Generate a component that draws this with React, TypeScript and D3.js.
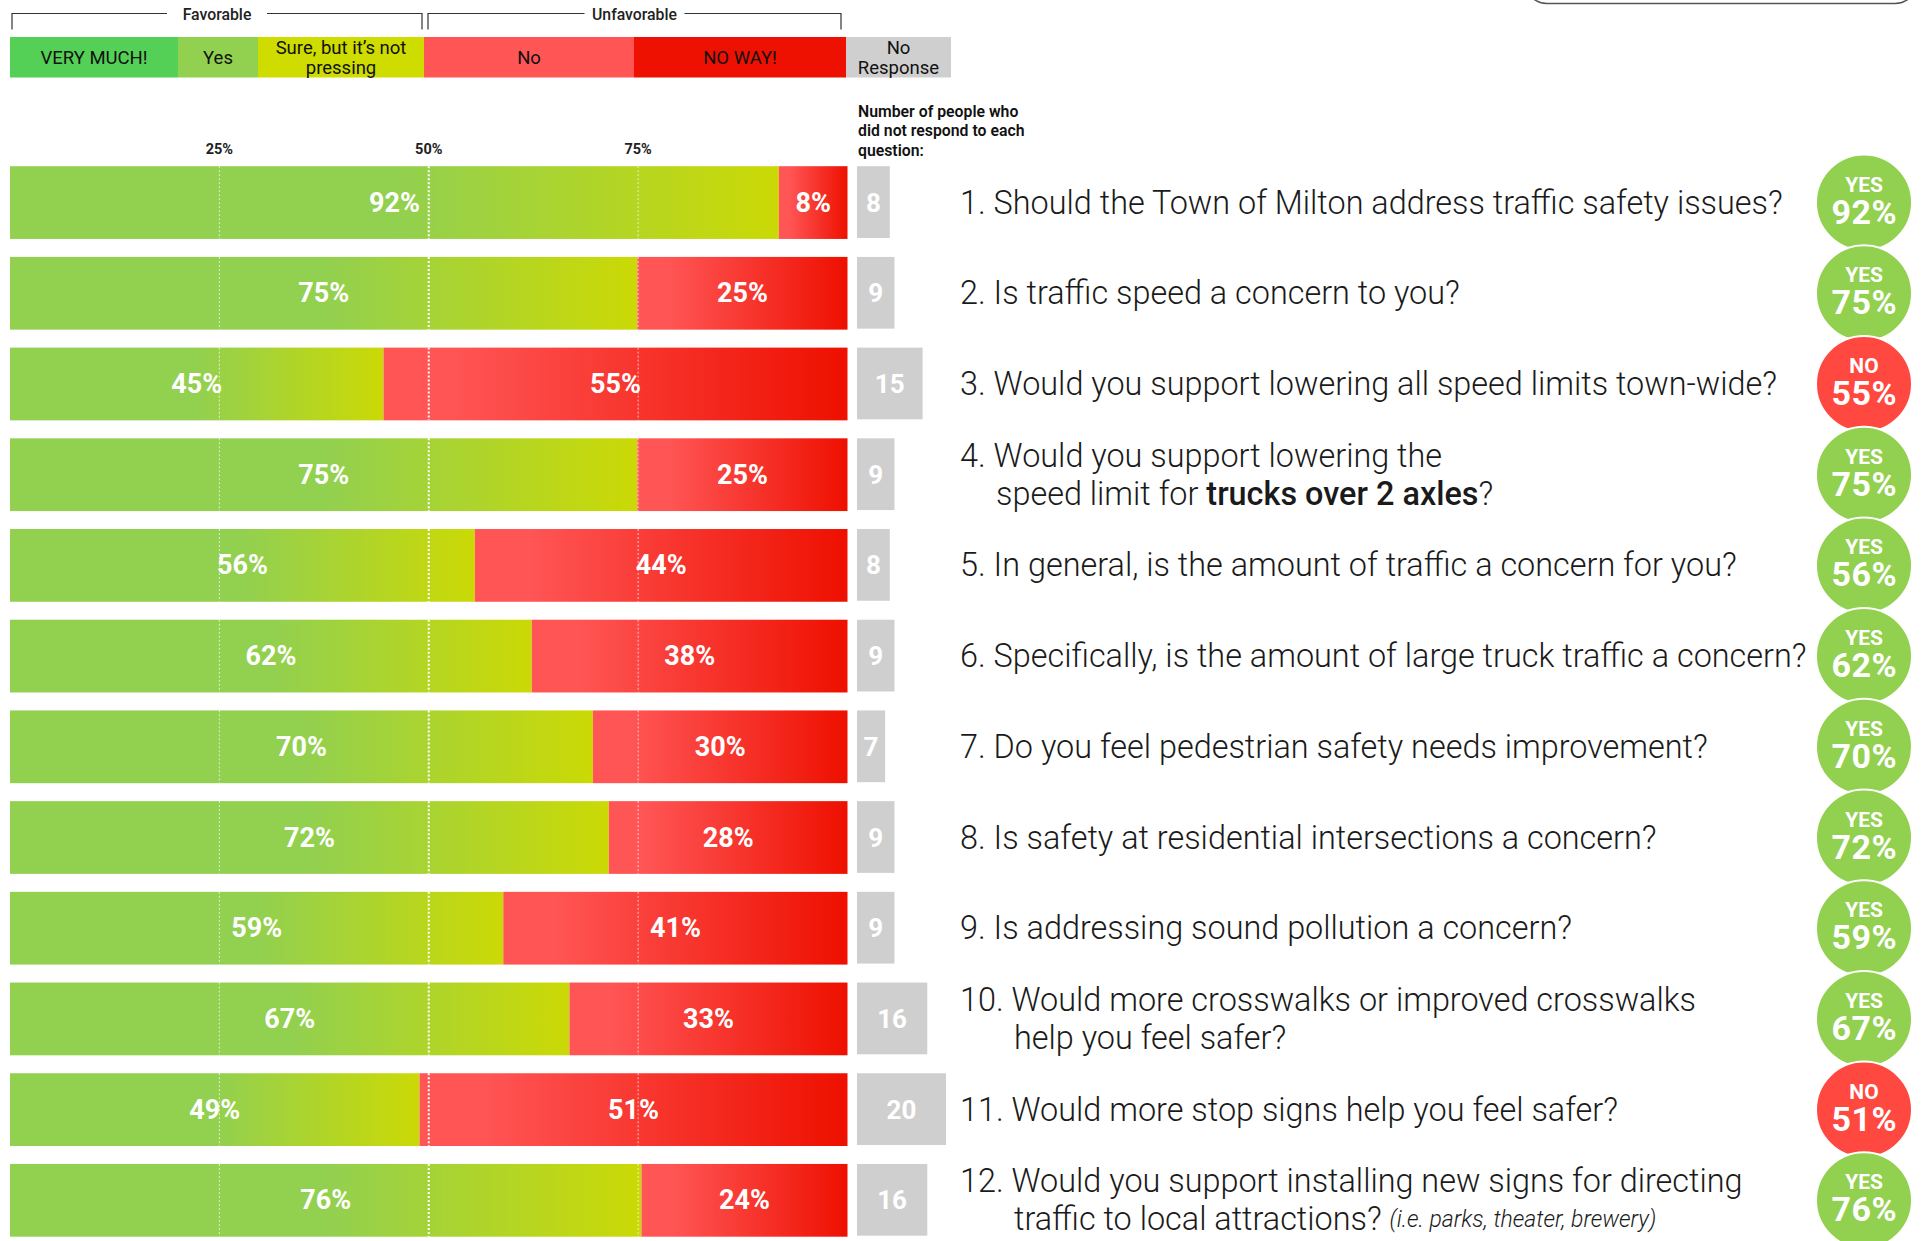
import React from "react";
import * as d3 from "d3";

// ---------- data ----------
const questionIds = ["1", "2", "3", "4", "5", "6", "7", "8", "9", "10", "11", "12"];
// favorable share as drawn (bar split)
const favorableShare = [91.8, 74.9, 44.6, 74.9, 55.5, 62.3, 69.6, 71.5, 58.9, 66.8, 48.9, 75.4];
// printed percentages
const favorableLabel = [92, 75, 45, 75, 56, 62, 70, 72, 59, 67, 49, 76];
const unfavorableLabel = [8, 25, 55, 25, 44, 38, 30, 28, 41, 33, 51, 24];
const noResponse = [8, 9, 15, 9, 8, 9, 7, 9, 9, 16, 20, 16];
const tickValues = [25, 50, 75];
const legendLabels = ["VERY MUCH!", "Yes", "Sure, but it\u2019s not|pressing", "No", "NO WAY!", "No|Response"];
const groupLabels = ["Favorable", "Unfavorable"];
const noteLines = ["Number of people who", "did not respond to each", "question:"];
type Seg = [string, "l" | "b" | "i"];
const questions: Seg[][][] = [
  [[["1. Should the Town of Milton address traffic safety issues?", "l"]]],
  [[["2. Is traffic speed a concern to you?", "l"]]],
  [[["3. Would you support lowering all speed limits town-wide?", "l"]]],
  [[["4. Would you support lowering the", "l"]], [["speed limit for ", "l"], ["trucks over 2 axles", "b"], ["?", "l"]]],
  [[["5. In general, is the amount of traffic a concern for you?", "l"]]],
  [[["6. Specifically, is the amount of large truck traffic a concern?", "l"]]],
  [[["7. Do you feel pedestrian safety needs improvement?", "l"]]],
  [[["8. Is safety at residential intersections a concern?", "l"]]],
  [[["9. Is addressing sound pollution a concern?", "l"]]],
  [[["10. Would more crosswalks or improved crosswalks", "l"]], [["help you feel safer?", "l"]]],
  [[["11. Would more stop signs help you feel safer?", "l"]]],
  [[["12. Would you support installing new signs for directing", "l"]], [["traffic to local attractions? ", "l"], ["(i.e. parks, theater, brewery)", "i"]]],
];

// ---------- style ----------
const GREEN = "#92d050";
const YELLOW = "#cbd905";
const RED_L = "#ff5555";
const RED_D = "#ee1000";
const GREY = "#d0cfcf";
const legendColors = ["#53d055", "#92d050", "#cfdc00", "#ff5555", "#ee1000", "#d0cfcf"];
const FONT = "Roboto, 'Noto Sans', sans-serif";

export default function App() {
  const W = 1929, H = 1241;
  const x = d3.scaleLinear().domain([0, 100]).range([10, 847.5]);
  const y = d3.scaleBand<string>().domain(questionIds).range([166.2, 1236.7]).paddingInner(0.198).paddingOuter(0);
  const bw = y.bandwidth();
  const nrX0 = 857;
  const nr = d3.scaleLinear().domain([1, 20]).range([0, 89]);
  const qx = 960;
  const qFont = 32.4;
  const circleX = 1864, circleR = 48;

  const legendEdges = [10, 178, 258, 424, 634, 846, 951];

  return (
    <svg width={W} height={H} style={{ position: "absolute", left: 0, top: 0, background: "#fff" }} fontFamily={FONT}>
      <defs>
        {questionIds.map((id) => (
          <React.Fragment key={id}>
            <linearGradient id={`fav${id}`} x1="0" x2="1" y1="0" y2="0">
              <stop offset="0" stopColor={GREEN} />
              <stop offset="0.5" stopColor={GREEN} />
              <stop offset="1" stopColor={YELLOW} />
            </linearGradient>
            <linearGradient id={`unf${id}`} x1="0" x2="1" y1="0" y2="0">
              <stop offset="0" stopColor={RED_L} />
              <stop offset="0.15" stopColor={RED_L} />
              <stop offset="1" stopColor={RED_D} />
            </linearGradient>
          </React.Fragment>
        ))}
      </defs>

      {/* top-right rounded box fragment */}
      <rect x={1525} y={-40} width={392} height={43.5} rx={22} fill="none" stroke="#555" strokeWidth={1.5} />

      {/* group brackets */}
      {[[12, 422], [428, 841]].map(([a, b], i) => (
        <g key={i}>
          <path d={`M${a},29.5V13.5H${b}V29.5`} fill="none" stroke="#333" strokeWidth={1.2} />
          <rect x={(a + b) / 2 - 50} y={4} width={100} height={18} fill="#fff" />
          <text x={(a + b) / 2} y={14} textAnchor="middle" dominantBaseline="central" fontSize={15.8} fontWeight={500} fill="#222">
            {groupLabels[i]}
          </text>
        </g>
      ))}

      {/* legend */}
      {legendLabels.map((lab, i) => {
        const a = legendEdges[i], b = legendEdges[i + 1];
        const lines = lab.split("|");
        return (
          <g key={i}>
            <rect x={a} y={37} width={b - a} height={40.5} fill={legendColors[i]} />
            {lines.map((ln, j) => (
              <text key={j} x={(a + b) / 2} y={lines.length === 1 ? 57.5 : 48 + j * 19.5} textAnchor="middle" dominantBaseline="central" fontSize={18.5} fill="#111">
                {ln}
              </text>
            ))}
          </g>
        );
      })}

      {/* tick labels */}
      {tickValues.map((t) => (
        <text key={t} x={x(t)} y={149} textAnchor="middle" dominantBaseline="central" fontSize={14.5} fontWeight={700} fill="#222">
          {t}%
        </text>
      ))}

      {/* note */}
      {noteLines.map((ln, i) => (
        <text key={i} x={858} y={111 + i * 19.6} dominantBaseline="central" fontSize={15.8} fontWeight={600} fill="#111">
          {ln}
        </text>
      ))}

      {/* bars */}
      {questionIds.map((id, i) => {
        const y0 = y(id)!;
        const f = favorableShare[i];
        const cy = y0 + bw / 2;
        return (
          <g key={id}>
            <rect x={x(0)} y={y0} width={x(f) - x(0)} height={bw} fill={`url(#fav${id})`} />
            <rect x={x(f)} y={y0} width={x(100) - x(f)} height={bw} fill={`url(#unf${id})`} />
            {tickValues.map((t) => (
              <line key={t} x1={x(t)} x2={x(t)} y1={y0} y2={y0 + bw} stroke="#fff"
                strokeWidth={t === 50 ? 2 : 1} strokeDasharray="2,2" strokeOpacity={t === 50 ? 1 : 0.7} />
            ))}
            <text x={x(f / 2)} y={cy} textAnchor="middle" dominantBaseline="central" fontSize={27} fontWeight={700} fill="#fff">
              {favorableLabel[i]}%
            </text>
            <text x={x(f + (100 - f) / 2)} y={cy} textAnchor="middle" dominantBaseline="central" fontSize={27} fontWeight={700} fill="#fff">
              {unfavorableLabel[i]}%
            </text>
            <rect x={nrX0} y={y0} width={nr(noResponse[i])} height={bw - 1} fill={GREY} />
            <text x={nrX0 + nr(noResponse[i]) / 2} y={cy} textAnchor="middle" dominantBaseline="central" fontSize={26} fontWeight={700} fill="#fff">
              {noResponse[i]}
            </text>
          </g>
        );
      })}

      {/* questions */}
      {questions.map((lines, i) => {
        const cy = y(questionIds[i])! + bw / 2;
        const indent = i >= 9 ? 54 : 36;
        return (
          <g key={i}>
            {lines.map((segs, j) => {
              const ly = lines.length === 1 ? cy : cy - 19 + j * 38;
              return (
                <text key={j} x={j === 0 ? qx : qx + indent} y={ly} dominantBaseline="central" fontSize={qFont} fill="#1a1a1a">
                  {segs.map(([t, s], k) => (
                    <tspan key={k} fontWeight={s === "b" ? 500 : 300} fontStyle={s === "i" ? "italic" : "normal"} fontSize={s === "i" ? 23 : qFont}>
                      {t}
                    </tspan>
                  ))}
                </text>
              );
            })}
          </g>
        );
      })}

      {/* verdict circles */}
      {questionIds.map((id, i) => {
        const cy = y(id)! + bw / 2;
        const yes = favorableLabel[i] >= 50;
        return (
          <g key={id}>
            <circle cx={circleX} cy={cy} r={circleR} fill={yes ? GREEN : "#ff4840"} stroke="#fff" strokeWidth={2} />
            <text x={circleX} y={cy - 18} textAnchor="middle" dominantBaseline="central" fontSize={21} fontWeight={700} fill="#fff">
              {yes ? "YES" : "NO"}
            </text>
            <text x={circleX + 0.25} y={cy + 9} textAnchor="middle" dominantBaseline="central" fontSize={34} fontWeight={700} letterSpacing={0.5} fill="#fff">
              {yes ? favorableLabel[i] : unfavorableLabel[i]}%
            </text>
          </g>
        );
      })}
    </svg>
  );
}
